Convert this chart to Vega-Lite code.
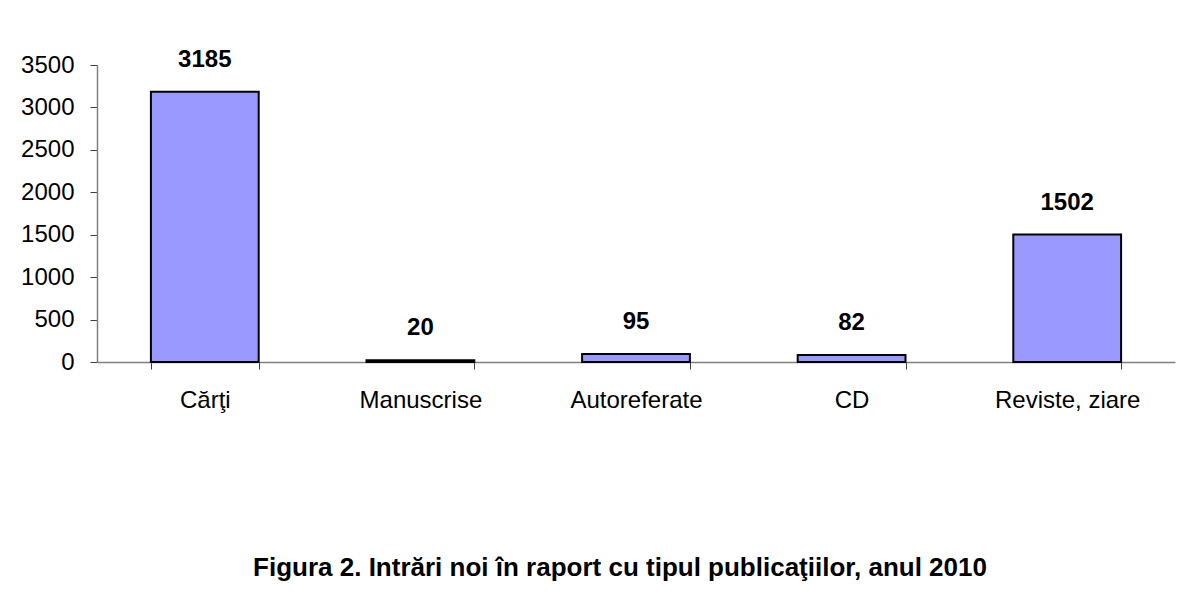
{
  "$schema": "https://vega.github.io/schema/vega-lite/v6.json",
  "autosize": "none",
  "width": 1078,
  "height": 297,
  "padding": {"left": 97, "top": 65, "right": 14, "bottom": 239},
  "background": "white",
  "config": {"view": {"stroke": null}, "font": "Liberation Sans"},
  "title": {
    "text": "Figura 2. Intrări noi în raport cu tipul  publicaţiilor, anul 2010",
    "orient": "bottom",
    "anchor": "middle",
    "offset": 143,
    "dx": -16,
    "font": "Liberation Sans",
    "fontSize": 26,
    "fontWeight": "bold",
    "color": "black"
  },
  "data": {
    "values": [
      {"tip": "Cărţi", "n": 3185},
      {"tip": "Manuscrise", "n": 20},
      {"tip": "Autoreferate", "n": 95},
      {"tip": "CD", "n": 82},
      {"tip": "Reviste, ziare", "n": 1502}
    ]
  },
  "encoding": {
    "x": {
      "field": "tip",
      "type": "nominal",
      "sort": null,
      "title": null,
      "scale": {"paddingInner": 0.5, "paddingOuter": 0.25},
      "axis": {
        "labelAngle": 0,
        "labelFontSize": 24,
        "labelColor": "black",
        "labelPadding": 19,
        "domainColor": "#808080",
        "domainWidth": 1.5,
        "tickColor": "#404040",
        "tickSize": 7,
        "tickBand": "extent",
        "tickWidth": 1
      }
    },
    "y": {
      "field": "n",
      "type": "quantitative",
      "title": null,
      "scale": {"domain": [0, 3500], "nice": false},
      "axis": {
        "values": [0, 500, 1000, 1500, 2000, 2500, 3000, 3500],
        "format": "d",
        "grid": false,
        "labelFontSize": 24,
        "labelColor": "black",
        "labelPadding": 16,
        "domainColor": "#808080",
        "domainWidth": 1.5,
        "tickColor": "#404040",
        "tickSize": 7,
        "tickWidth": 1
      }
    }
  },
  "layer": [
    {
      "mark": {"type": "bar", "fill": "#9999FF", "stroke": "black", "strokeWidth": 2}
    },
    {
      "mark": {
        "type": "text",
        "baseline": "bottom",
        "dy": -20,
        "fontSize": 24,
        "fontWeight": "bold",
        "color": "black"
      },
      "encoding": {"text": {"field": "n", "type": "quantitative"}}
    }
  ]
}
